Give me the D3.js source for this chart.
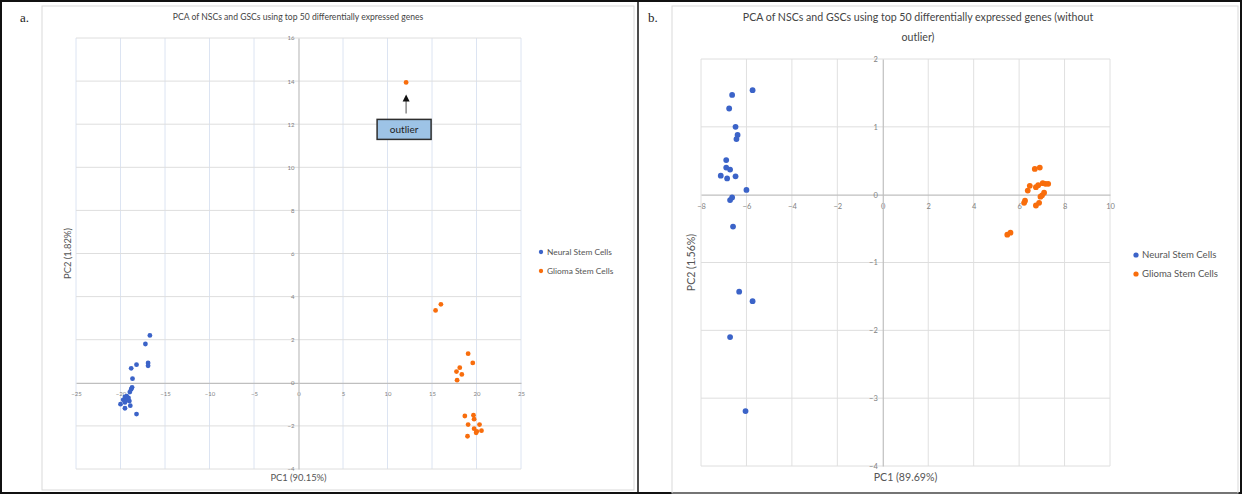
<!DOCTYPE html>
<html>
<head>
<meta charset="utf-8">
<script src="https://cdn.jsdelivr.net/npm/d3@7"></script>
<style>
  html, body { margin: 0; padding: 0; background: #fff; }
  svg { display: block; font-family: Lato, "Open Sans", sans-serif; }
</style>
</head>
<body>
<svg id="chart" width="1242" height="494"></svg>
<script>
// Values: [PC1, PC2]
const nscA = [[-16.7, 2.2], [-17.2, 1.8], [-18.2, 0.84], [-18.8, 0.67], [-16.9, 0.92], [-16.9, 0.79],
  [-18.65, 0.19], [-18.7, -0.21], [-18.8, -0.3], [-18.95, -0.43], [-19.5, -0.66], [-19.3, -0.62],
  [-19.1, -0.7], [-19.7, -0.79], [-19.4, -0.82], [-19.0, -0.85], [-20.0, -0.99], [-19.5, -0.91],
  [-18.9, -1.06], [-19.5, -1.18], [-18.2, -1.45], [-19.2, -0.75]];
const gscA = [[15.4, 3.36], [16.0, 3.64], [19.06, 1.35], [19.58, 0.92], [18.12, 0.7], [17.75, 0.52],
  [18.35, 0.39], [17.82, 0.12], [18.69, -1.54], [19.66, -1.5], [19.73, -1.69], [19.06, -1.94],
  [20.34, -1.94], [19.73, -2.13], [20.03, -2.25], [19.96, -2.32], [20.56, -2.22], [18.99, -2.48],
  [12.09, 13.94]];
const nscB = [[-5.73, 1.54], [-6.63, 1.47], [-6.76, 1.27], [-6.48, 1.0], [-6.39, 0.88], [-6.44, 0.82],
  [-6.89, 0.51], [-6.89, 0.4], [-6.72, 0.37], [-7.13, 0.28], [-6.85, 0.24], [-6.48, 0.27],
  [-6.0, 0.07], [-6.63, -0.04], [-6.72, -0.08], [-6.59, -0.47], [-6.32, -1.43], [-5.73, -1.57],
  [-6.72, -2.1], [-6.04, -3.19]];
const gscB = [[6.69, 0.38], [6.91, 0.4], [6.38, 0.06], [6.47, 0.13], [6.74, 0.11], [6.84, 0.14],
  [7.04, 0.17], [7.16, 0.16], [7.28, 0.16], [7.1, 0.03], [7.01, -0.01], [6.94, -0.03],
  [6.26, -0.09], [6.22, -0.12], [6.88, -0.12], [6.74, -0.16], [5.48, -0.59], [5.62, -0.56]];

const ticksA_x = d3.range(-25, 26, 5);
const ticksA_y = d3.range(-4, 17, 2);
const ticksB_x = d3.range(-8, 11, 2);
const ticksB_y = d3.range(-4, 3, 1);

const seriesNames = ['Neural Stem Cells', 'Glioma Stem Cells'];
const blue = '#3b63c8';
const orange = '#f86d0c';

const svg = d3.select('#chart');

// figure frame
svg.append('rect').attr('x', 1).attr('y', 1).attr('width', 1240).attr('height', 492)
    .attr('fill', 'none').attr('stroke', '#111').attr('stroke-width', 2);
svg.append('line').attr('x1', 638).attr('x2', 638).attr('y1', 1).attr('y2', 493)
    .attr('stroke', '#111').attr('stroke-width', 1.5);

function panel(o) {
    const g = svg.append('g');

    // light chart-area border
    g.append('rect').attr('x', o.frame[0]).attr('y', o.frame[1])
        .attr('width', o.frame[2] - o.frame[0]).attr('height', o.frame[3] - o.frame[1])
        .attr('fill', 'none').attr('stroke', '#d9d9d9');

    g.append('text').attr('x', o.letter[0]).attr('y', o.letter[1])
        .attr('font-family', '"Liberation Serif", serif').attr('font-size', 13).attr('fill', '#222')
        .text(o.letterText);

    const x = d3.scaleLinear().domain(o.xDomain).range(o.xRange);
    const y = d3.scaleLinear().domain(o.yDomain).range(o.yRange);

    // gridlines
    g.append('g').selectAll('line').data(o.xTicks.filter(d => d !== 0)).join('line')
        .attr('x1', d => x(d)).attr('x2', d => x(d))
        .attr('y1', y.range()[0]).attr('y2', y.range()[1])
        .attr('stroke', o.vGrid).attr('stroke-width', 1);
    g.append('g').selectAll('line').data(o.yTicks.filter(d => d !== 0)).join('line')
        .attr('y1', d => y(d)).attr('y2', d => y(d))
        .attr('x1', x.range()[0]).attr('x2', x.range()[1])
        .attr('stroke', '#dedede').attr('stroke-width', 1);

    // axes crossing at zero
    const xAxis = g.append('g').attr('transform', `translate(0,${y(0)})`)
        .call(d3.axisBottom(x).tickValues(o.xTicks).tickSize(0).tickPadding(o.xPad).tickFormat(d3.format('')));
    const yAxis = g.append('g').attr('transform', `translate(${x(0)},0)`)
        .call(d3.axisLeft(y).tickValues(o.yTicks).tickSize(0).tickPadding(o.yPad).tickFormat(d3.format('')));
    [xAxis, yAxis].forEach(a => {
        a.select('.domain').attr('stroke', '#bfbfbf').attr('stroke-width', 1.2);
        a.selectAll('text').attr('fill', '#7f7f7f').attr('font-size', o.tickSize)
            .attr('font-family', 'Lato, sans-serif');
    });

    // title
    const title = g.append('text').attr('x', o.titleX).attr('y', o.titleY)
        .attr('text-anchor', 'middle').attr('font-size', o.titleSize).attr('fill', '#444');
    o.title.forEach((t, i) => title.append('tspan').attr('x', o.titleX).attr('dy', i ? o.titleSize * 1.9 : 0).text(t));

    // axis titles
    g.append('text').attr('x', d3.mean(x.range())).attr('y', o.xLabelY)
        .attr('text-anchor', 'middle').attr('font-size', o.labelSize).attr('fill', '#555').text(o.xLabel);
    g.append('text')
        .attr('transform', `translate(${o.yLabelX},${d3.mean(y.range())}) rotate(-90)`)
        .attr('text-anchor', 'middle').attr('font-size', o.labelSize).attr('fill', '#555').text(o.yLabel);

    // points
    [[o.nsc, blue], [o.gsc, orange]].forEach(([data, col]) => {
        g.append('g').selectAll('circle').data(data).join('circle')
            .attr('cx', d => x(d[0])).attr('cy', d => y(d[1])).attr('r', o.r)
            .attr('fill', col);
    });

    // legend
    const lg = g.append('g').attr('transform', `translate(${o.legend[0]},${o.legend[1]})`);
    seriesNames.forEach((name, i) => {
        lg.append('circle').attr('cx', 0).attr('cy', i * o.legendGap).attr('r', o.r * 0.9)
            .attr('fill', i ? orange : blue);
        lg.append('text').attr('x', 6).attr('y', i * o.legendGap).attr('dy', '0.35em')
            .attr('font-size', o.legendSize).attr('fill', '#555').text(name);
    });

    return { g, x, y };
}

const a = panel({
    frame: [42, 6, 634, 490], letter: [20, 22], letterText: 'a.',
    xDomain: [-25, 25], xRange: [76, 521], yDomain: [-4, 16], yRange: [469, 38],
    xTicks: ticksA_x, yTicks: ticksA_y, vGrid: '#dce4f2',
    xPad: 9, yPad: 4, tickSize: 6,
    title: ['PCA of NSCs and GSCs using top 50 differentially expressed genes'],
    titleX: 298, titleY: 20, titleSize: 8.6,
    xLabel: 'PC1 (90.15%)', xLabelY: 481, yLabel: 'PC2 (1.82%)', yLabelX: 71, labelSize: 9.4,
    nsc: nscA, gsc: gscA, r: 2.4,
    legend: [541, 252], legendGap: 19, legendSize: 8.4
});

// outlier call-out
const outlier = gscA[gscA.length - 1];
const ox = a.x(outlier[0]), oy = a.y(outlier[1]);
a.g.append('line').attr('x1', ox).attr('x2', ox).attr('y1', oy + 31).attr('y2', oy + 18)
    .attr('stroke', '#777').attr('stroke-width', 1.3);
a.g.append('path')
    .attr('d', `M${ox},${oy + 12}L${ox - 3.5},${oy + 19}L${ox + 3.5},${oy + 19}Z`).attr('fill', '#111');
a.g.append('rect').attr('x', ox - 29).attr('y', oy + 37).attr('width', 54).attr('height', 20)
    .attr('fill', '#9dc3e6').attr('stroke', '#2e2e2e').attr('stroke-width', 1.5);
a.g.append('text').attr('x', ox - 2).attr('y', oy + 47).attr('dy', '0.35em')
    .attr('text-anchor', 'middle').attr('font-size', 10).attr('fill', '#222').text('outlier');

panel({
    frame: [672, 6, 1238, 493], letter: [648, 22], letterText: 'b.',
    xDomain: [-8, 10], xRange: [701, 1110], yDomain: [-4, 2], yRange: [466, 59],
    xTicks: ticksB_x, yTicks: ticksB_y, vGrid: '#e0e0e0',
    xPad: 9, yPad: 5, tickSize: 7.5,
    title: ['PCA of NSCs and GSCs using top 50 differentially expressed genes (without', 'outlier)'],
    titleX: 918, titleY: 21, titleSize: 10.6,
    xLabel: 'PC1 (89.69%)', xLabelY: 481, yLabel: 'PC2 (1.56%)', yLabelX: 695, labelSize: 10.6,
    nsc: nscB, gsc: gscB, r: 2.9,
    legend: [1136, 255], legendGap: 19, legendSize: 9.6
});
</script>
</body>
</html>
